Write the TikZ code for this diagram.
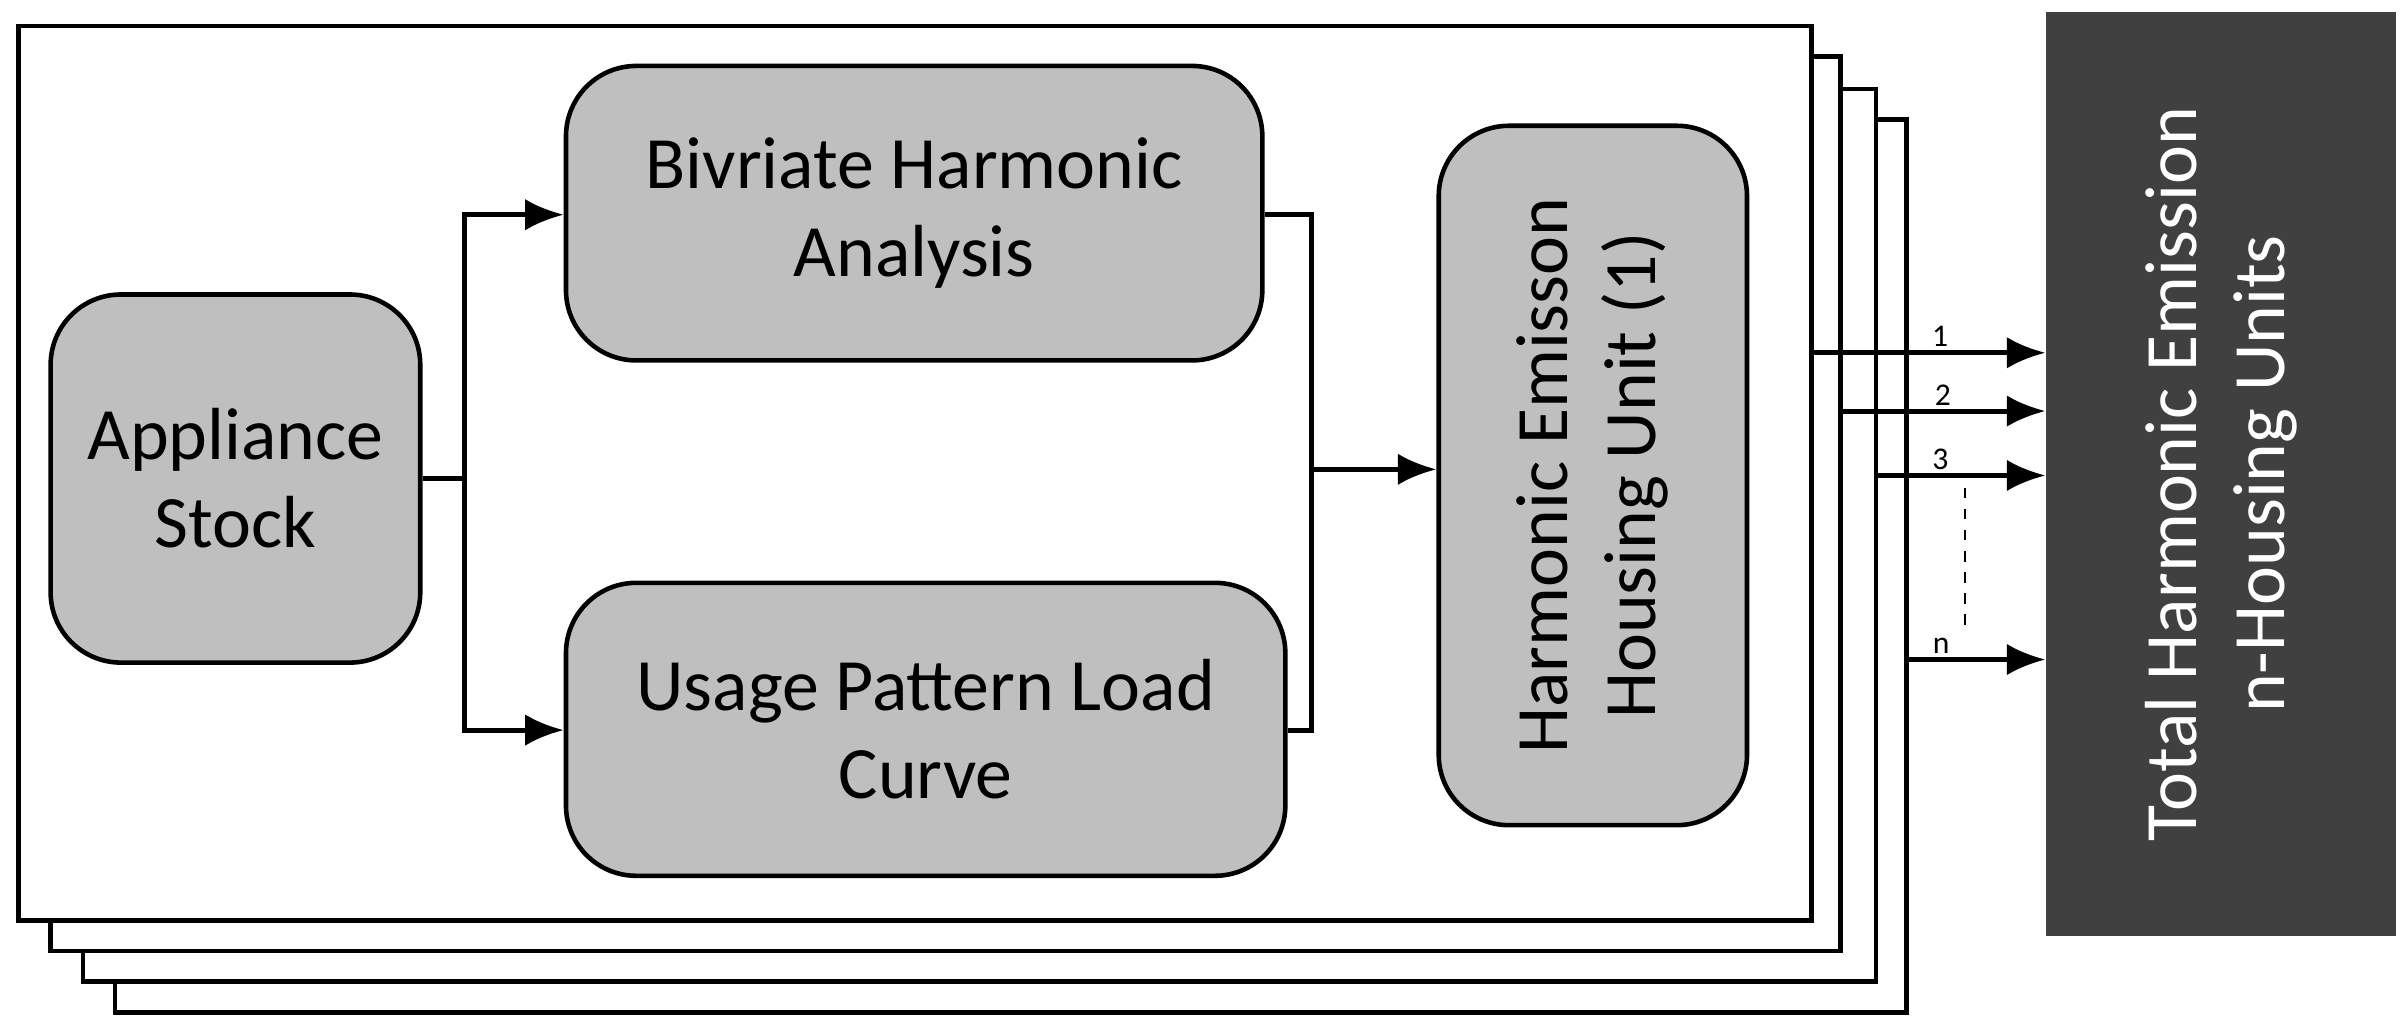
\documentclass[tikz,border=0pt]{standalone}
\usepackage{fontspec}
\setmainfont{Carlito}
\usetikzlibrary{positioning,arrows.meta}

\tikzset{
  blk/.style={draw, line width=1.3pt, rounded corners=20pt, fill=black!25, font=\fontsize{21}{25}\selectfont, align=center, inner sep=0pt},
  frm/.style={draw, line width=1.3pt, fill=white},
  con/.style={line width=1.4pt},
  arr/.style={line width=1.4pt, -{Latex[length=11pt,width=9pt]}},
  num/.style={font=\fontsize{9}{10}\selectfont, above, inner sep=1pt}
}

\begin{document}
\begin{tikzpicture}[x=0.01534cm, y=-0.01534cm]

\useasboundingbox (0,0) rectangle (1568,674);

% Stacked housing units
\draw[frm] (75,78) rectangle (1243,660);
\draw[frm] (54,58) rectangle (1223,640);
\draw[frm] (33,37) rectangle (1200,620);
\draw[frm] (12,17) rectangle (1181,600);

% Blocks
\node[blk, minimum width=241*0.01534cm, minimum height=240*0.01534cm] (stock) at (153.5,312) {Appliance\\Stock};
\node[blk, minimum width=454*0.01534cm, minimum height=192*0.01534cm] (bha) at (596,139) {Bivriate Harmonic\\Analysis};
\node[blk, minimum width=469*0.01534cm, minimum height=191*0.01534cm] (upl) at (603.5,475.5) {Usage Pattern Load\\Curve};
\node[blk, minimum width=201*0.01534cm, minimum height=456*0.01534cm] (heu) at (1038.5,310) {};
\node[rotate=90, font=\fontsize{21}{25}\selectfont, align=center] at (heu.center) {Harmonic Emisson\\Housing Unit (1)};

% Total block
\node[fill=black!75, minimum width=228*0.01534cm, minimum height=602*0.01534cm, inner sep=0pt] (tot) at (1448,309) {};
\node[rotate=90, text=white, font=\fontsize{21}{25}\selectfont, align=center] at (tot.center) {Total Harmonic Emission\\n-Housing Units};

% Connectors
\coordinate (split) at (303,312);
\coordinate (merge) at (855,306);
\coordinate (ybha) at (0,140);
\coordinate (yupl) at (0,476);
\draw[con] (stock.east |- split) -- (split);
\draw[arr] (split) |- (bha.west |- ybha);
\draw[arr] (split) |- (upl.west |- yupl);
\draw[con] (bha.east |- ybha) -| (merge);
\draw[con] (upl.east |- yupl) -| (merge);
\draw[arr] (merge) -- (heu.west |- merge);

% Outputs of the housing units
\coordinate (o1) at (1181,230);
\coordinate (o2) at (1200,268);
\coordinate (o3) at (1223,310);
\coordinate (on) at (1243,430);
\draw[arr] (o1) -- (tot.west |- o1) node[num, pos=0.55] {1};
\draw[arr] (o2) -- (tot.west |- o2) node[num, pos=0.5] {2};
\draw[arr] (o3) -- (tot.west |- o3) node[num, pos=0.38] {3};
\draw[arr] (on) -- (tot.west |- on) node[num, pos=0.25] {n};
\draw[dashed, line width=0.6pt] (1281,318) -- (1281,412);

\end{tikzpicture}
\end{document}
